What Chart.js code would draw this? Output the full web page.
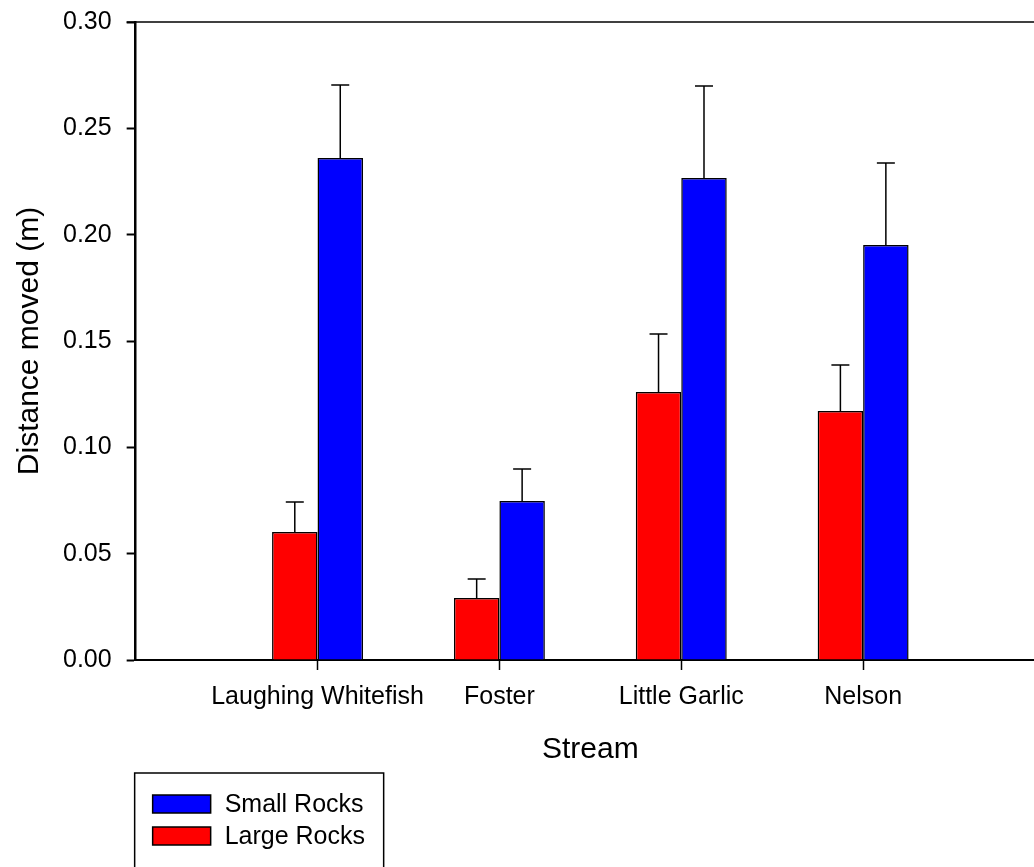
<!DOCTYPE html>
<html>
<head>
<meta charset="utf-8">
<script src="https://cdn.jsdelivr.net/npm/chart.js@4.4.1/dist/chart.umd.min.js"></script>
<style>
html,body{margin:0;padding:0;overflow:hidden;background:#fff;}
#wrap{width:1060px;height:867px;}
</style>
</head>
<body>
<div id="wrap"><canvas id="c" width="1060" height="867"></canvas></div>
<script>
const categories = ['Laughing Whitefish', 'Foster', 'Little Garlic', 'Nelson'];
const largeRocks = [0.0602, 0.0291, 0.1260, 0.1171];
const largeRocksErr = [0.0141, 0.0090, 0.0273, 0.0216];
const smallRocks = [0.2360, 0.0748, 0.2266, 0.1951];
const smallRocksErr = [0.0344, 0.0150, 0.0433, 0.0386];
const yTicks = [0.00, 0.05, 0.10, 0.15, 0.20, 0.25, 0.30];

const FONT = '"Liberation Sans", Arial, sans-serif';

const errorBars = {
  id: 'errorBars',
  afterDatasetsDraw(chart) {
    const ctx = chart.ctx;
    const y = chart.scales.y;
    ctx.save();
    ctx.strokeStyle = '#000';
    ctx.lineWidth = 1.5;
    chart.data.datasets.forEach((ds, di) => {
      const meta = chart.getDatasetMeta(di);
      meta.data.forEach((bar, i) => {
        const v = ds.data[i].y;
        const e = ds.errors[i];
        const yTop = y.getPixelForValue(v + e);
        const yBase = y.getPixelForValue(v);
        ctx.beginPath();
        ctx.moveTo(bar.x, yBase);
        ctx.lineTo(bar.x, yTop);
        ctx.moveTo(bar.x - 9, yTop);
        ctx.lineTo(bar.x + 9, yTop);
        ctx.stroke();
      });
    });
    ctx.restore();
  }
};

const frame = {
  id: 'frame',
  afterDraw(chart) {
    const ctx = chart.ctx;
    const a = chart.chartArea;
    ctx.save();
    ctx.strokeStyle = '#000';
    ctx.lineWidth = 1.5;
    ctx.beginPath();
    ctx.moveTo(a.left - 9, a.top);
    ctx.lineTo(chart.width, a.top);
    ctx.stroke();
    // legend box
    const lx = a.left - 1, ly = 773, lw = 249;
    ctx.lineWidth = 1.5;
    ctx.strokeRect(lx, ly, lw, 120);
    const items = [
      {label: 'Small Rocks', color: chart.data.datasets[1].backgroundColor},
      {label: 'Large Rocks', color: chart.data.datasets[0].backgroundColor}
    ];
    ctx.font = '25px ' + FONT;
    ctx.textBaseline = 'middle';
    items.forEach((it, k) => {
      const cy = 804 + k * 32;
      ctx.fillStyle = it.color;
      ctx.fillRect(lx + 18, cy - 9, 58, 18);
      ctx.lineWidth = 1.5;
      ctx.strokeStyle = '#000';
      ctx.strokeRect(lx + 18, cy - 9, 58, 18);
      ctx.fillStyle = '#000';
      ctx.fillText(it.label, lx + 90, cy + 1);
    });
    ctx.restore();
  }
};

new Chart(document.getElementById('c'), {
  type: 'bar',
  data: {
    datasets: [
      {
        label: 'Large Rocks',
        data: largeRocks.map((v, i) => ({x: i + 1, y: v})),
        errors: largeRocksErr,
        backgroundColor: '#FF0000',
        borderColor: '#000',
        borderWidth: 1.5,
        categoryPercentage: 0.5,
        barPercentage: 1.0
      },
      {
        label: 'Small Rocks',
        data: smallRocks.map((v, i) => ({x: i + 1, y: v})),
        errors: smallRocksErr,
        backgroundColor: '#0000FF',
        borderColor: '#000',
        borderWidth: 1.5,
        categoryPercentage: 0.5,
        barPercentage: 1.0
      }
    ]
  },
  options: {
    responsive: false,
    animation: false,
    devicePixelRatio: 1,
    layout: {padding: {left: 0, right: 15, top: 22, bottom: 99}},
    plugins: {legend: {display: false}, tooltip: {enabled: false}},
    scales: {
      x: {
        type: 'linear',
        offset: false,
        min: 0,
        max: categories.length + 1,
        afterBuildTicks: s => { s.ticks = categories.map((c, i) => ({value: i + 1})); },
        ticks: {
          callback: v => categories[v - 1] || '',
          color: '#000',
          font: {family: FONT, size: 25},
          padding: 12,
          maxRotation: 0,
          autoSkip: false
        },
        grid: {display: true, offset: false, drawOnChartArea: false, drawTicks: true, tickLength: 10, tickWidth: 1.5, tickColor: '#000'},
        border: {display: true, color: '#000', width: 2},
        title: {display: true, text: 'Stream', color: '#000', font: {family: FONT, size: 30}, padding: {top: 8, bottom: 0}}
      },
      y: {
        min: 0,
        max: 0.30,
        afterBuildTicks: s => { s.ticks = yTicks.map(v => ({value: v})); },
        afterFit: s => { s.paddingTop = 0; },
        ticks: {
          callback: v => Number(v).toFixed(2),
          color: '#000',
          font: {family: FONT, size: 25},
          padding: 15
        },
        grid: {display: true, drawOnChartArea: false, drawTicks: true, tickLength: 9, tickWidth: 2, tickColor: '#000'},
        border: {display: true, color: '#000', width: 2.5},
        title: {display: true, text: 'Distance moved (m)', color: '#000', font: {family: FONT, size: 30}, padding: {top: 12, bottom: 0}}
      }
    }
  },
  plugins: [errorBars, frame]
});
</script>
</body>
</html>
